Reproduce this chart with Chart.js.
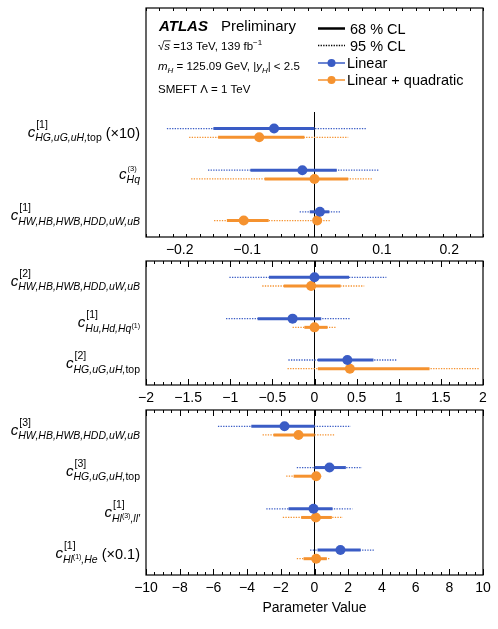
<!DOCTYPE html>
<html>
<head>
<meta charset="utf-8">
<script src="https://cdn.jsdelivr.net/npm/chart.js@4.4.1/dist/chart.umd.min.js"></script>
<style>
  html, body { margin: 0; padding: 0; background: #fff; }
  #wrap { position: relative; width: 498px; height: 629px; }
  canvas { position: absolute; left: 0; }
</style>
</head>
<body>
<div id="wrap">
  <canvas id="p1" width="498" height="262" style="top:0px"></canvas>
  <canvas id="p2" width="498" height="155" style="top:255px"></canvas>
  <canvas id="p3" width="498" height="221" style="top:404px"></canvas>
</div>
<script>
// ---- panel 1: x in [-0.25, 0.25] ----
const p1Ticks = [-0.2, -0.1, 0, 0.1, 0.2];
const p1Lin = [-0.060, -0.018, 0.008];
const p1Lin68 = [[-0.150, 0.000], [-0.095, 0.033], [-0.007, 0.022]];
const p1Lin95 = [[-0.219, 0.077], [-0.158, 0.095], [-0.022, 0.038]];
const p1Quad = [[-0.082], [0.000], [-0.105, 0.004]];
const p1Quad68 = [[-0.143, -0.015], [-0.074, 0.050], [-0.130, -0.068]];
const p1Quad95 = [[-0.186, 0.050], [-0.183, 0.086], [-0.149, 0.023]];
const p1Labels = [
  { sup: '[1]', sub: [['HG,uG,uH,', 'i'], ['top', 'r']], tail: ' (×10)' },
  { sup: '(3)', small: true, sub: [['Hq', 'i']] },
  { sup: '[1]', sub: [['HW,HB,HWB,HDD,uW,uB', 'i']] },
];

// ---- panel 2: x in [-2, 2] ----
const p2Ticks = [-2, -1.5, -1, -0.5, 0, 0.5, 1, 1.5, 2];
const p2Lin = [0.0, -0.26, 0.39];
const p2Lin68 = [[-0.54, 0.41], [-0.675, 0.08], [0.04, 0.70]];
const p2Lin95 = [[-1.01, 0.853], [-1.05, 0.43], [-0.31, 0.98]];
const p2Quad = [[-0.04], [0.0], [0.42]];
const p2Quad68 = [[-0.365, 0.31], [-0.12, 0.155], [0.04, 1.365]];
const p2Quad95 = [[-0.62, 0.59], [-0.26, 0.26], [-0.32, 1.96]];
const p2Labels = [
  { sup: '[2]', sub: [['HW,HB,HWB,HDD,uW,uB', 'i']] },
  { sup: '[1]', sub: [['Hu,Hd,Hq', 'i'], ['(1)', 's']] },
  { sup: '[2]', sub: [['HG,uG,uH,', 'i'], ['top', 'r']] },
];

// ---- panel 3: x in [-10, 10] ----
const p3Ticks = [-10, -8, -6, -4, -2, 0, 2, 4, 6, 8, 10];
const p3Lin = [-1.78, 0.89, -0.06, 1.54];
const p3Lin68 = [[-3.75, 0.0], [0.0, 1.86], [-1.54, 1.07], [0.18, 2.74]];
const p3Lin95 = [[-5.73, 2.15], [-1.05, 2.82], [-2.86, 2.25], [-0.26, 3.53]];
const p3Quad = [[-0.95], [0.1], [0.08], [0.1]];
const p3Quad68 = [[-2.43, 0.0], [-1.24, 0.18], [-0.79, 1.03], [-0.65, 0.73]];
const p3Quad95 = [[-3.08, 1.18], [-1.68, 0.43], [-1.88, 1.68], [-1.05, 0.89]];
const p3Labels = [
  { sup: '[3]', sub: [['HW,HB,HWB,HDD,uW,uB', 'i']] },
  { sup: '[3]', sub: [['HG,uG,uH,', 'i'], ['top', 'r']] },
  { sup: '[1]', sub: [['Hl', 'i'], ['(3)', 's'], [',ll′', 'i']] },
  { sup: '[1]', sub: [['Hl', 'i'], ['(1)', 's'], [',He', 'i']], tail: ' (×0.1)' },
];

const FONT = '"Liberation Sans", Arial, Helvetica, sans-serif';
const BLUE = '#3a5cc5';
const ORANGE = '#f5922f';
const OFF = 0.105; // half gap between linear and quadratic rows

function fmt(v) {
  return v < 0 ? '\u2212' + String(-v) : String(v);
}

function put(ctx, t, x, y, font) {
  ctx.font = font;
  ctx.fillText(t, x, y);
  return x + ctx.measureText(t).width;
}

function width(ctx, t, font) {
  ctx.font = font;
  return ctx.measureText(t).width;
}

function subFont(style) {
  if (style === 'r') return `10.5px ${FONT}`;
  if (style === 's') return `7px ${FONT}`;
  return `italic 10.5px ${FONT}`;
}

function drawLabel(ctx, lab, xRight, yc) {
  const cFont = `italic 15px ${FONT}`;
  const supFont = lab.small ? `7.5px ${FONT}` : `10.5px ${FONT}`;
  const tailFont = `14.5px ${FONT}`;
  const cw = width(ctx, 'c', cFont);
  const supW = width(ctx, lab.sup, supFont);
  let subW = 0;
  lab.sub.forEach(([t, s]) => { subW += width(ctx, t, subFont(s)); });
  const tailW = lab.tail ? width(ctx, lab.tail, tailFont) : 0;
  const body = Math.max(supW + 1, subW);
  const x0 = xRight - (cw + body + tailW);
  const b = yc + 4;
  ctx.fillStyle = '#000';
  ctx.textAlign = 'left';
  ctx.textBaseline = 'alphabetic';
  put(ctx, 'c', x0, b, cFont);
  put(ctx, lab.sup, x0 + cw + 1, lab.small ? b - 8 : b - 9, supFont);
  let x = x0 + cw;
  lab.sub.forEach(([t, s]) => {
    x = put(ctx, t, x, s === 's' ? b + 1 : b + 4.5, subFont(s));
  });
  if (lab.tail) put(ctx, lab.tail, x0 + cw + body, b + 1, tailFont);
}

function drawHeader(ctx) {
  ctx.save();
  ctx.fillStyle = '#000';
  ctx.strokeStyle = '#000';
  ctx.textAlign = 'left';
  ctx.textBaseline = 'alphabetic';
  put(ctx, 'ATLAS', 159, 31, `italic bold 15px ${FONT}`);
  put(ctx, 'Preliminary', 221, 31, `15px ${FONT}`);

  const S = 11.5, R = `${S}px ${FONT}`, I = `italic ${S}px ${FONT}`;
  let x = put(ctx, '√', 158, 50, R);
  const sx = x;
  x = put(ctx, 's', x, 50, I);
  ctx.lineWidth = 0.8;
  ctx.beginPath();
  ctx.moveTo(sx - 0.5, 50 - S * 0.8);
  ctx.lineTo(x + 0.5, 50 - S * 0.8);
  ctx.stroke();
  x = put(ctx, ' =13 TeV, 139 fb', x, 50, R);
  put(ctx, '\u22121', x, 45, `8px ${FONT}`);

  x = put(ctx, 'm', 158, 70, I);
  x = put(ctx, 'H', x, 73, `italic 8px ${FONT}`);
  x = put(ctx, ' = 125.09 GeV, |', x, 70, R);
  x = put(ctx, 'y', x, 70, I);
  x = put(ctx, 'H', x, 73, `italic 8px ${FONT}`);
  put(ctx, '| < 2.5', x, 70, R);

  put(ctx, 'SMEFT Λ = 1 TeV', 158, 93, R);

  // legend
  const L = `14.5px ${FONT}`;
  ctx.lineWidth = 2.5;
  ctx.beginPath(); ctx.moveTo(318, 28.5); ctx.lineTo(345, 28.5); ctx.stroke();
  ctx.lineWidth = 1.5;
  ctx.setLineDash([1.3, 1.3]);
  ctx.beginPath(); ctx.moveTo(318, 45.5); ctx.lineTo(345, 45.5); ctx.stroke();
  ctx.setLineDash([]);
  [[BLUE, 63], [ORANGE, 80]].forEach(([c, y]) => {
    ctx.strokeStyle = c; ctx.fillStyle = c; ctx.lineWidth = 1.5;
    ctx.beginPath(); ctx.moveTo(318, y); ctx.lineTo(345, y); ctx.stroke();
    ctx.beginPath(); ctx.arc(331.5, y, 4, 0, Math.PI * 2); ctx.fill();
  });
  ctx.fillStyle = '#000';
  put(ctx, '68 % CL', 350, 33.5, L);
  put(ctx, '95 % CL', 350, 50.5, L);
  put(ctx, 'Linear', 347, 68, L);
  put(ctx, 'Linear + quadratic', 347, 85, L);
  ctx.restore();
}

function seg(iv, y, color, dotted) {
  return {
    data: [{ x: iv[0], y }, { x: iv[1], y }],
    showLine: true,
    borderColor: color,
    borderWidth: dotted ? 1.3 : 3,
    borderDash: dotted ? [1.3, 1.3] : [],
    pointRadius: 0,
    order: dotted ? 2 : 1,
  };
}

function dots(vals, off, color) {
  const data = [];
  vals.forEach((v, i) => [].concat(v).forEach(x => data.push({ x, y: i + off })));
  return {
    data,
    backgroundColor: color,
    borderColor: color,
    borderWidth: 0,
    pointRadius: 5,
    order: 0,
  };
}

function panel(cfg) {
  const ds = [dots(cfg.lin, -OFF, BLUE), dots(cfg.quad, OFF, ORANGE)];
  cfg.lin68.forEach((iv, i) => ds.push(seg(iv, i - OFF, BLUE, false)));
  cfg.quad68.forEach((iv, i) => ds.push(seg(iv, i + OFF, ORANGE, false)));
  cfg.lin95.forEach((iv, i) => ds.push(seg(iv, i - OFF, BLUE, true)));
  cfg.quad95.forEach((iv, i) => ds.push(seg(iv, i + OFF, ORANGE, true)));
  ds.push({
    data: [{ x: 0, y: cfg.zeroFrom }, { x: 0, y: cfg.yMax }],
    showLine: true, borderColor: '#000', borderWidth: 1, pointRadius: 0, order: 3,
  });

  const decor = {
    id: 'decor',
    afterDatasetsDraw(chart) {
      const { ctx, chartArea: a } = chart;
      const xs = chart.scales.x, ys = chart.scales.y;
      ctx.save();
      ctx.strokeStyle = '#000';
      ctx.lineWidth = 1;
      const nMinor = Math.round((cfg.xMax - cfg.xMin) / cfg.minor);
      for (let k = 0; k <= nMinor; k++) {
        const v = cfg.xMin + k * cfg.minor;
        const major = cfg.ticks.some(t => Math.abs(t - v) < cfg.minor / 10);
        const px = Math.round(xs.getPixelForValue(v)) + 0.5;
        const len = major ? 6 : 3;
        ctx.beginPath();
        ctx.moveTo(px, a.bottom); ctx.lineTo(px, a.bottom - len);
        ctx.moveTo(px, a.top); ctx.lineTo(px, a.top + len);
        ctx.stroke();
      }
      ctx.lineWidth = 1.2;
      ctx.strokeRect(a.left, a.top, a.right - a.left, a.bottom - a.top);
      cfg.labels.forEach((lab, i) => drawLabel(ctx, lab, a.left - 6, ys.getPixelForValue(i)));
      if (cfg.header) drawHeader(ctx);
      ctx.restore();
    },
  };

  return new Chart(document.getElementById(cfg.id), {
    type: 'scatter',
    data: { datasets: ds },
    plugins: [decor],
    options: {
      responsive: false,
      animation: false,
      events: [],
      layout: { padding: { left: 146, right: 15, top: cfg.padTop, bottom: 0 } },
      plugins: { legend: { display: false }, tooltip: { enabled: false } },
      scales: {
        x: {
          type: 'linear',
          min: cfg.xMin,
          max: cfg.xMax,
          afterBuildTicks: s => { s.ticks = cfg.ticks.map(v => ({ value: v })); },
          afterFit: s => { s.height = cfg.axisH; },
          grid: { display: false, drawTicks: false },
          border: { display: false },
          ticks: {
            padding: 5, color: '#000', maxRotation: 0, autoSkip: false,
            font: { family: FONT, size: 14 },
            callback: v => fmt(v),
          },
          title: cfg.title
            ? { display: true, text: cfg.title, color: '#000', font: { family: FONT, size: 14 }, padding: { top: 0, bottom: 8 } }
            : { display: false },
        },
        y: { type: 'linear', display: false, min: cfg.yMin, max: cfg.yMax, reverse: true },
      },
    },
  });
}

panel({
  id: 'p1', xMin: -0.25, xMax: 0.25, ticks: p1Ticks, minor: 0.02,
  yMin: -3.0, yMax: 2.5, zeroFrom: -0.5, padTop: 8, axisH: 25, header: true,
  lin: p1Lin, lin68: p1Lin68, lin95: p1Lin95, quad: p1Quad, quad68: p1Quad68, quad95: p1Quad95,
  labels: p1Labels,
});
panel({
  id: 'p2', xMin: -2, xMax: 2, ticks: p2Ticks, minor: 0.1,
  yMin: -0.5, yMax: 2.5, zeroFrom: -0.5, padTop: 6, axisH: 25,
  lin: p2Lin, lin68: p2Lin68, lin95: p2Lin95, quad: p2Quad, quad68: p2Quad68, quad95: p2Quad95,
  labels: p2Labels,
});
panel({
  id: 'p3', xMin: -10, xMax: 10, ticks: p3Ticks, minor: 0.5,
  yMin: -0.5, yMax: 3.5, zeroFrom: -0.5, padTop: 6, axisH: 50, title: 'Parameter Value',
  lin: p3Lin, lin68: p3Lin68, lin95: p3Lin95, quad: p3Quad, quad68: p3Quad68, quad95: p3Quad95,
  labels: p3Labels,
});
</script>
</body>
</html>
